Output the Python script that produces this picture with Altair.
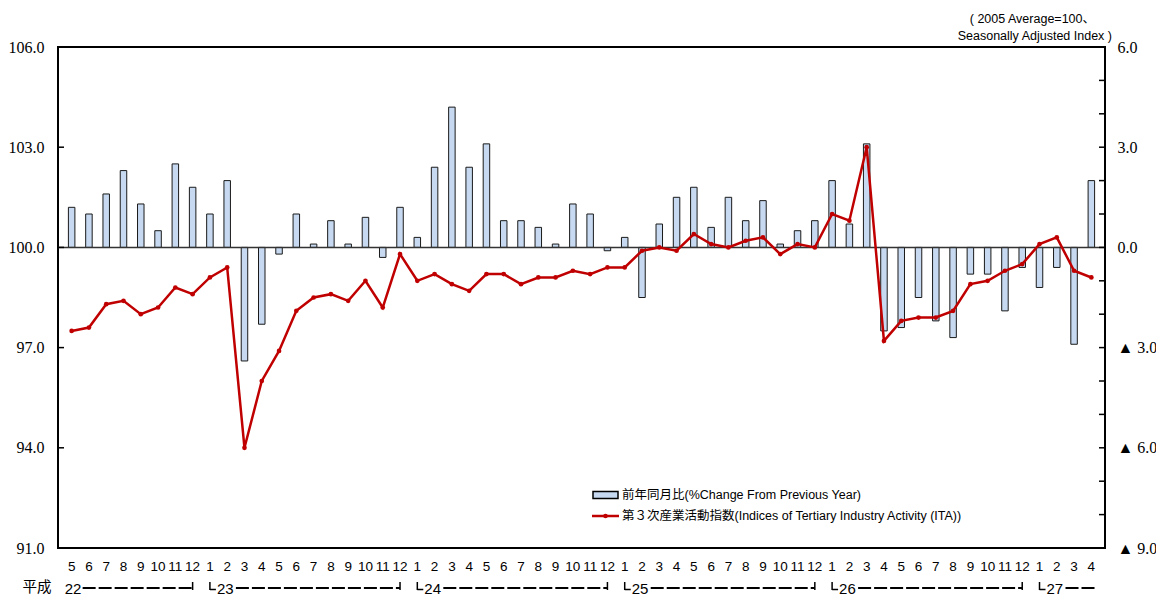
import altair as alt
import pandas as pd

# ---------------- data ----------------
months = ["5", "6", "7", "8", "9", "10", "11", "12",
          "1", "2", "3", "4", "5", "6", "7", "8", "9", "10", "11", "12",
          "1", "2", "3", "4", "5", "6", "7", "8", "9", "10", "11", "12",
          "1", "2", "3", "4", "5", "6", "7", "8", "9", "10", "11", "12",
          "1", "2", "3", "4", "5", "6", "7", "8", "9", "10", "11", "12",
          "1", "2", "3", "4"]

yoy = [1.2, 1.0, 1.6, 2.3, 1.3, 0.5, 2.5, 1.8,
       1.0, 2.0, -3.4, -2.3, -0.2, 1.0, 0.1, 0.8, 0.1, 0.9, -0.3, 1.2,
       0.3, 2.4, 4.2, 2.4, 3.1, 0.8, 0.8, 0.6, 0.1, 1.3, 1.0, -0.1,
       0.3, -1.5, 0.7, 1.5, 1.8, 0.6, 1.5, 0.8, 1.4, 0.1, 0.5, 0.8,
       2.0, 0.7, 3.1, -2.5, -2.4, -1.5, -2.2, -2.7, -0.8, -0.8, -1.9, -0.6,
       -1.2, -0.6, -2.9, 2.0]

ita = [97.5, 97.6, 98.3, 98.4, 98.0, 98.2, 98.8, 98.6,
       99.1, 99.4, 94.0, 96.0, 96.9, 98.1, 98.5, 98.6, 98.4, 99.0, 98.2, 99.8,
       99.0, 99.2, 98.9, 98.7, 99.2, 99.2, 98.9, 99.1, 99.1, 99.3, 99.2, 99.4,
       99.4, 99.9, 100.0, 99.9, 100.4, 100.1, 100.0, 100.2, 100.3, 99.8, 100.1, 100.0,
       101.0, 100.8, 103.0, 97.2, 97.8, 97.9, 97.9, 98.1, 98.9, 99.0, 99.3, 99.5,
       100.1, 100.3, 99.3, 99.1]

year_labels = ["22", "23", "24", "25", "26", "27"]
year_start = [0, 8, 20, 32, 44, 56]
year_end = [7, 19, 31, 43, 55, 59]
era_label = "平成"

left_ticks = [91, 94, 97, 100, 103, 106]
right_ticks = [-9, -6, -3, 0, 3, 6]
right_minor = list(range(-9, 7))

legend_labels = ["前年同月比(%Change From Previous Year)",
                 "第３次産業活動指数(Indices of Tertiary Industry Activity (ITA))"]
note_lines = ["( 2005 Average=100、", "Seasonally Adjusted Index )"]

# ---------------- layout ----------------
W, H = 1047, 501
NARROW = "Liberation Sans Narrow, Arial Narrow, Liberation Sans, Noto Sans CJK JP"
SERIF = "Liberation Serif, DejaVu Serif"
BAR_FILL = "#c6d9f0"
RED = "#c00000"

df = pd.DataFrame({"i": list(range(len(months))), "month": months, "yoy": yoy, "ita": ita})
yr = pd.DataFrame({"year": year_labels, "start": year_start, "end": year_end})
one = pd.DataFrame({"a": [0]})

xs = alt.Scale(domain=[-0.5, len(months) - 0.5], nice=False, zero=False)
yR = alt.Scale(domain=[-9, 6], nice=False, zero=False)
yL = alt.Scale(domain=[91, 106], nice=False, zero=False)
X = alt.X("i:Q", scale=xs, axis=None)

bars = alt.Chart(df).mark_bar(size=6.5, fill=BAR_FILL, stroke="#1a1a1a", strokeWidth=1).encode(
    x=X,
    y=alt.Y("yoy:Q", scale=yR,
            axis=alt.Axis(orient="right", values=right_ticks, tickSize=0, domain=False, grid=False,
                          labelExpr="datum.value < 0 ? '▲ ' + format(-datum.value, '.1f') : format(datum.value, '.1f')",
                          labelFont=SERIF, labelFontSize=16, labelPadding=12, labelColor="black",
                          title=None)),
    y2=alt.datum(0),
)

zero = alt.Chart(one).mark_rule(color="#333333", strokeWidth=1.5).encode(
    y=alt.Y("a:Q", scale=yR, axis=None))

rticks = alt.Chart(pd.DataFrame({"v": right_minor})).mark_rule(color="black", strokeWidth=1.5).encode(
    y=alt.Y("v:Q", scale=yR, axis=None), x=alt.value(W - 6), x2=alt.value(W))

lticks = alt.Chart(pd.DataFrame({"v": left_ticks})).mark_rule(color="black", strokeWidth=1.5).encode(
    y=alt.Y("v:Q", scale=yL, axis=None), x=alt.value(0), x2=alt.value(6))

line = alt.Chart(df).mark_line(
    color=RED, strokeWidth=2.5,
    point=alt.OverlayMarkDef(filled=True, size=22, color=RED)).encode(
    x=X,
    y=alt.Y("ita:Q", scale=yL,
            axis=alt.Axis(orient="left", values=left_ticks, format=".1f", tickSize=0, domain=False,
                          grid=False, labelFont=SERIF, labelFontSize=16, labelPadding=14,
                          labelColor="black", title=None)),
)

month_text = alt.Chart(df).mark_text(font=NARROW, fontSize=13.5, baseline="middle", color="black").encode(
    x=X, y=alt.value(H + 19), text="month:N")

# era row
ROW = H + 46  # baseline of the era row
era = alt.Chart(one).mark_text(font="Noto Sans CJK JP", fontSize=14.5, baseline="middle",
                               align="center", color="black").encode(
    x=alt.value(-21), y=alt.value(ROW - 6), text=alt.value(era_label))

XS = alt.X("start:Q", scale=xs, axis=None)
XE = alt.X("end:Q", scale=xs, axis=None)

yr_first = alt.Chart(yr.iloc[[0]]).mark_text(font=NARROW, fontSize=15, align="left", baseline="alphabetic",
                                             xOffset=-7, color="black").encode(
    x=XS, y=alt.value(ROW), text="year:N")
yr_rest = alt.Chart(yr.iloc[1:]).mark_text(font=NARROW, fontSize=15, align="left", baseline="alphabetic",
                                           xOffset=7, color="black").encode(
    x=XS, y=alt.value(ROW), text="year:N")

start_v = alt.Chart(yr.iloc[1:]).mark_rule(color="black", strokeWidth=1.5).encode(
    x=XS, y=alt.value(ROW - 12), y2=alt.value(ROW - 4))
start_h = alt.Chart(yr.iloc[1:]).mark_rule(color="black", strokeWidth=1.5, x2Offset=6).encode(
    x=XS, x2="start:Q", y=alt.value(ROW - 4.5))
end_v = alt.Chart(yr.iloc[:-1]).mark_rule(color="black", strokeWidth=1.5).encode(
    x=XE, y=alt.value(ROW - 12), y2=alt.value(ROW - 4))

dash_first = alt.Chart(yr.iloc[[0]]).mark_rule(color="black", strokeWidth=1.8, strokeDash=[13, 3],
                                               xOffset=11).encode(
    x=XS, x2="end:Q", y=alt.value(ROW - 6))
dash_mid = alt.Chart(yr.iloc[1:-1]).mark_rule(color="black", strokeWidth=1.8, strokeDash=[13, 3],
                                              xOffset=26).encode(
    x=XS, x2="end:Q", y=alt.value(ROW - 6))
dash_last = alt.Chart(yr.iloc[[-1]]).mark_rule(color="black", strokeWidth=1.8, strokeDash=[13, 3],
                                               xOffset=26, x2Offset=4).encode(
    x=XS, x2="end:Q", y=alt.value(ROW - 6))

# legend
LX, LY = 534, 448
leg_rect = alt.Chart(one).mark_rect(fill=BAR_FILL, stroke="black", strokeWidth=1.5).encode(
    x=alt.value(LX + 1), x2=alt.value(LX + 26), y=alt.value(LY - 3.5), y2=alt.value(LY + 3.5))
leg_line = alt.Chart(one).mark_rule(color=RED, strokeWidth=2.5).encode(
    x=alt.value(LX), x2=alt.value(LX + 27), y=alt.value(LY + 21))
leg_pt = alt.Chart(one).mark_point(filled=True, size=22, color=RED, opacity=1).encode(
    x=alt.value(LX + 13.5), y=alt.value(LY + 21))
leg_t1 = alt.Chart(one).mark_text(font=NARROW, fontSize=12.5, align="left", baseline="middle",
                                  color="black").encode(
    x=alt.value(LX + 30), y=alt.value(LY), text=alt.value(legend_labels[0]))
leg_t2 = alt.Chart(one).mark_text(font=NARROW, fontSize=12.5, align="left", baseline="middle",
                                  color="black").encode(
    x=alt.value(LX + 30), y=alt.value(LY + 21), text=alt.value(legend_labels[1]))

note1 = alt.Chart(one).mark_text(font=NARROW, fontSize=12.5, align="right", baseline="middle",
                                 color="black").encode(
    x=alt.value(W - 10), y=alt.value(-28), text=alt.value(note_lines[0]))
note2 = alt.Chart(one).mark_text(font=NARROW, fontSize=12.5, align="right", baseline="middle",
                                 color="black").encode(
    x=alt.value(W + 7), y=alt.value(-11), text=alt.value(note_lines[1]))

chart = alt.layer(
    bars, zero, rticks, lticks, line, month_text, era, yr_first, yr_rest,
    start_v, start_h, end_v, dash_first, dash_mid, dash_last,
    leg_rect, leg_line, leg_pt, leg_t1, leg_t2, note1, note2,
).resolve_scale(y="independent").properties(
    width=W, height=H,
    autosize=alt.AutoSizeParams(type="none"),
    padding={"left": 50, "top": 39, "right": 51, "bottom": 49},
).configure_view(stroke="black", strokeWidth=2)

chart.save("out.html", embed_options={"renderer": "svg", "actions": False})
